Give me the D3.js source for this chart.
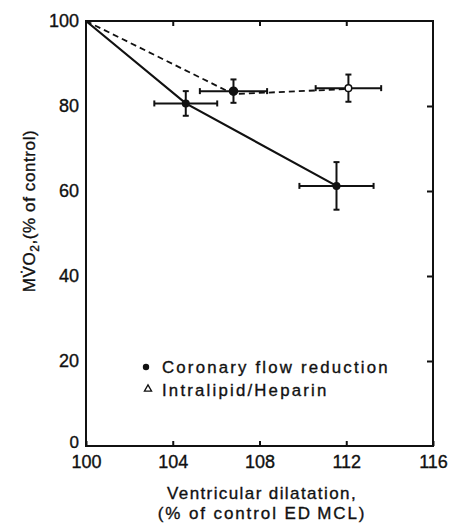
<!DOCTYPE html>
<html><head><meta charset="utf-8">
<script src="https://cdn.jsdelivr.net/npm/d3@7"></script>
<style>body{margin:0;background:#fff}svg{display:block}text{font-family:"Liberation Sans",Arial,sans-serif;fill:#111;stroke:#111;stroke-width:0.35px}</style>
</head><body><svg id="c" width="450" height="525"></svg>
<script>
const xTicks = [100, 104, 108, 112, 116];
const yTicks = [0, 20, 40, 60, 80, 100];
// Coronary flow reduction (solid line, filled circles)
const coronaryX = [100, 104.6, 111.55];
const coronaryY = [100, 80.6, 61.2];
const coronaryXErr = [0, 1.45, 1.71];
const coronaryYErr = [0, 2.9, 5.6];
// Intralipid/Heparin (dashed line)
const lipidX = [106.8, 112.1];
const lipidY = [83.5, 84.2];
const lipidXErr = [1.55, 1.51];
const lipidYErr = [2.75, 3.2];
const lipidFilled = [true, false];
const lipidLineX = [100, 106.8, 112.1];
const lipidLineY = [100, 82.8, 84.0];
const legendLabels = ["Coronary flow reduction", "Intralipid/Heparin"];

const svg = d3.select("#c");
const L = 86, R = 433, T = 21, B = 446;
const x = d3.scaleLinear().domain([100, 116]).range([L, R]);
const y = d3.scaleLinear().domain([0, 100]).range([B, T]);
const ink = "#111";

// frame
svg.append("rect").attr("x", L).attr("y", T).attr("width", R - L).attr("height", B - T)
  .attr("fill", "none").attr("stroke", ink).attr("stroke-width", 2);

// axes with inward ticks
const xb = svg.append("g").attr("transform", `translate(0,${B})`)
  .call(d3.axisBottom(x).tickValues(xTicks).tickSize(-5).tickPadding(9).tickFormat(d3.format("d")));
const xt = svg.append("g").attr("transform", `translate(0,${T})`)
  .call(d3.axisTop(x).tickValues(xTicks.slice(1, -1)).tickSize(-5).tickFormat(""));
const yl = svg.append("g").attr("transform", `translate(${L},0)`)
  .call(d3.axisLeft(y).tickValues(yTicks).tickSize(0).tickPadding(7).tickFormat(d3.format("d")));
const yr = svg.append("g").attr("transform", `translate(${R},0)`)
  .call(d3.axisRight(y).tickValues(yTicks.slice(1, -1)).tickSize(-6).tickFormat(""));
[xb, xt, yl, yr].forEach(g => {
  g.select(".domain").remove();
  g.selectAll("line").attr("stroke", ink).attr("stroke-width", 2);
  g.selectAll("text").attr("font-size", 18).attr("fill", ink)
    .style("font-family", '"Liberation Sans",Arial,sans-serif');
});
xb.selectAll("text").attr("dy", "0.71em");
yl.selectAll("text").filter(d => d === 0).attr("dy", "0.1em").attr("font-size", 17);

// lines
const line = d3.line().x(d => x(d[0])).y(d => y(d[1]));
svg.append("path").datum(coronaryX.map((v, i) => [v, coronaryY[i]]))
  .attr("d", line).attr("fill", "none").attr("stroke", ink).attr("stroke-width", 2.2);
svg.append("path").datum(lipidLineX.map((v, i) => [v, lipidLineY[i]]))
  .attr("d", line).attr("fill", "none").attr("stroke", ink).attr("stroke-width", 1.8)
  .attr("stroke-dasharray", "6,4");

// error bars
function errBars(xs, ys, xe, ye) {
  const g = svg.append("g").attr("stroke", ink).attr("stroke-width", 2);
  xs.forEach((xv, i) => {
    if (!xe[i] && !ye[i]) return;
    const cx = x(xv), cy = y(ys[i]);
    const x0 = x(xv - xe[i]), x1 = x(xv + xe[i]);
    const y0 = y(ys[i] - ye[i]), y1 = y(ys[i] + ye[i]);
    g.append("line").attr("x1", x0).attr("x2", x1).attr("y1", cy).attr("y2", cy);
    g.append("line").attr("x1", x0).attr("x2", x0).attr("y1", cy - 3).attr("y2", cy + 3);
    g.append("line").attr("x1", x1).attr("x2", x1).attr("y1", cy - 3).attr("y2", cy + 3);
    g.append("line").attr("x1", cx).attr("x2", cx).attr("y1", y0).attr("y2", y1);
    g.append("line").attr("x1", cx - 3).attr("x2", cx + 3).attr("y1", y0).attr("y2", y0);
    g.append("line").attr("x1", cx - 3).attr("x2", cx + 3).attr("y1", y1).attr("y2", y1);
  });
}
errBars(coronaryX, coronaryY, coronaryXErr, coronaryYErr);
errBars(lipidX, lipidY, lipidXErr, lipidYErr);

// markers
svg.selectAll(".cm").data(coronaryX.slice(1)).enter().append("circle")
  .attr("cx", d => x(d)).attr("cy", (d, i) => y(coronaryY[i + 1])).attr("r", 4).attr("fill", ink);
svg.selectAll(".lm").data(lipidX).enter().append("circle")
  .attr("cx", d => x(d)).attr("cy", (d, i) => y(lipidY[i])).attr("r", (d, i) => lipidFilled[i] ? 4 : 3.3)
  .attr("fill", (d, i) => lipidFilled[i] ? ink : "#fff").attr("stroke", ink).attr("stroke-width", 1.5);

// legend
const lg = svg.append("g");
lg.append("circle").attr("cx", 146).attr("cy", 367).attr("r", 3.2).attr("fill", ink);
lg.append("path").attr("d", d3.symbol(d3.symbolTriangle, 22)()).attr("transform", "translate(148,389)")
  .attr("fill", "#fff").attr("stroke", ink).attr("stroke-width", 1.3);
lg.selectAll("text").data(legendLabels).enter().append("text")
  .attr("x", 162).attr("y", (d, i) => 373 + i * 23).attr("font-size", 16.8)
  .attr("letter-spacing", "2.2px").text(d => d);

// axis titles
svg.append("text").attr("x", 262).attr("y", 499).attr("text-anchor", "middle")
  .attr("font-size", 17).attr("letter-spacing", "1.4px").text("Ventricular dilatation,");
svg.append("text").attr("x", 262).attr("y", 519).attr("text-anchor", "middle")
  .attr("font-size", 17).attr("letter-spacing", "1.9px").text("(% of control ED\u2009MCL)");
const yt = svg.append("text").attr("transform", "translate(35,211) rotate(-90)")
  .attr("text-anchor", "middle").attr("font-size", 17).attr("letter-spacing", "0.6px");
yt.append("tspan").text("MV\u0307O");
yt.append("tspan").attr("font-size", 12).attr("dy", 4).text("2");
yt.append("tspan").attr("dy", -4).text(",(% of control)");
</script></body></html>
